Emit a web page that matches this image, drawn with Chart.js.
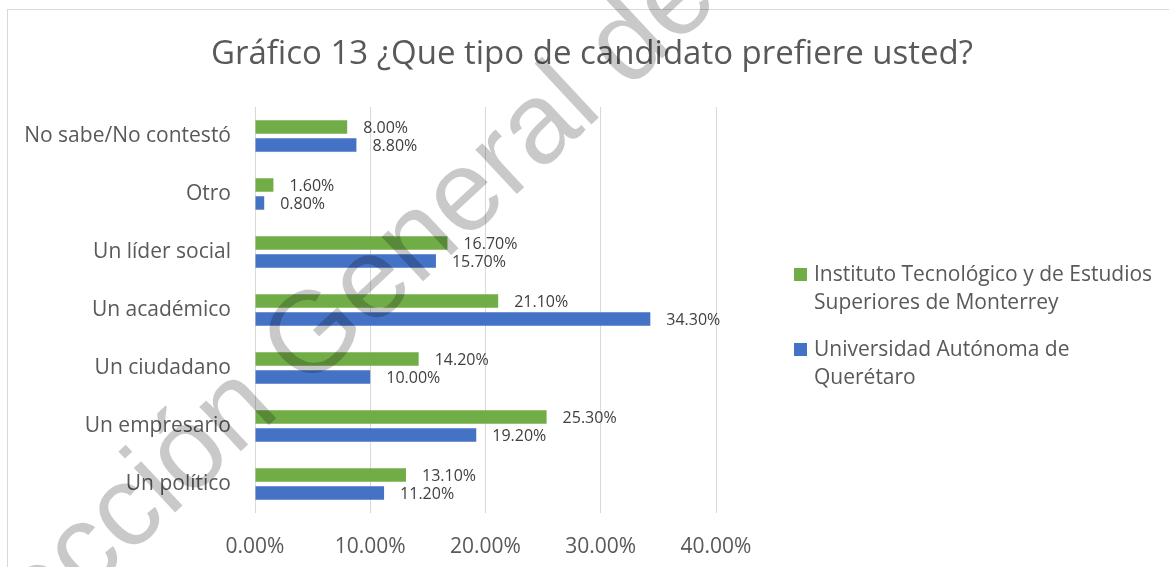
<!DOCTYPE html>
<html>
<head>
<meta charset="utf-8">
<script src="https://cdn.jsdelivr.net/npm/chart.js@4"></script>
<style>
  body { margin: 0; background: #fff; overflow: hidden; }
  #frame { position: absolute; left: 7px; top: 9px; width: 1200px; height: 600px; border: 1px solid #d9d9d9; }
  #myChart { position: absolute; left: 0; top: 0; }
</style>
</head>
<body>
<div id="frame"></div>
<canvas id="myChart" width="1169" height="567"></canvas>
<script>
const categories = ['No sabe/No contestó', 'Otro', 'Un líder social', 'Un académico', 'Un ciudadano', 'Un empresario', 'Un político']
const itesm = [8.0, 1.6, 16.7, 21.1, 14.2, 25.3, 13.1]
const uaq = [8.8, 0.8, 15.7, 34.3, 10.0, 19.2, 11.2]
const seriesNames = [
  ['Instituto Tecnológico y de Estudios', 'Superiores de Monterrey'],
  ['Universidad Autónoma de', 'Querétaro']
]
const xTicks = [0, 10, 20, 30, 40]
const title = 'Gráfico 13 ¿Que tipo de candidato prefiere usted?'
const watermark = 'Dirección General de Bibliotecas'

const FONT = '"Open Sans", sans-serif'
const GREY = '#595959'

function pct(v) {
  return v.toFixed(2) + '%'
}

// values next to the bars
const valueLabels = {
  id: 'valueLabels',
  afterDatasetsDraw(chart) {
    const ctx = chart.ctx
    ctx.save()
    ctx.font = '16px ' + FONT
    ctx.fillStyle = '#404040'
    ctx.textBaseline = 'middle'
    ctx.textAlign = 'left'
    chart.data.datasets.forEach(function(ds, i) {
      chart.getDatasetMeta(i).data.forEach(function(bar, j) {
        ctx.fillText(pct(ds.data[j]), bar.x + 16, bar.y + 1)
      })
    })
    ctx.restore()
  }
}

// title + legend on the right, watermark over everything
const decorations = {
  id: 'decorations',
  afterDraw(chart) {
    const ctx = chart.ctx
    ctx.save()
    ctx.fillStyle = GREY
    ctx.font = '33px ' + FONT
    ctx.textAlign = 'center'
    ctx.textBaseline = 'middle'
    ctx.fillText(title, 592, 55)

    ctx.font = '21px ' + FONT
    ctx.textAlign = 'left'
    let y = 275
    chart.data.datasets.forEach(function(ds, i) {
      ctx.fillStyle = ds.backgroundColor
      ctx.fillRect(794, y - 7, 13, 13)
      ctx.fillStyle = GREY
      seriesNames[i].forEach(function(line, k) {
        ctx.fillText(line, 814, y + k * 28)
      })
      y += 75
    })

    // watermark, anchored on the "n" of "Dirección"
    const size = 115
    ctx.font = size + 'px "Liberation Sans", Arial, sans-serif'
    ctx.fillStyle = 'rgba(0,0,0,0.21)'
    const pre = ctx.measureText('Direcció').width
    const n = ctx.measureText('n').width
    ctx.translate(238, 413)
    ctx.rotate(-43 * Math.PI / 180)
    ctx.textBaseline = 'alphabetic'
    ctx.fillText(watermark, -pre - n / 2, 0.26 * size)
    ctx.restore()
  }
}

new Chart(document.getElementById('myChart'), {
  type: 'bar',
  data: {
    labels: categories,
    datasets: [
      {
        label: seriesNames[0].join(' '),
        data: itesm,
        backgroundColor: '#70AD47',
        barPercentage: 0.75,
        categoryPercentage: 0.62
      },
      {
        label: seriesNames[1].join(' '),
        data: uaq,
        backgroundColor: '#4472C4',
        barPercentage: 0.75,
        categoryPercentage: 0.62
      }
    ]
  },
  options: {
    indexAxis: 'y',
    responsive: false,
    animation: false,
    layout: {
      padding: { left: 0, right: 453, top: 107, bottom: 0 }
    },
    scales: {
      x: {
        min: 0,
        max: 40,
        afterBuildTicks: function(scale) {
          scale.ticks = xTicks.map(function(v) { return { value: v } })
        },
        afterFit: function(scale) { scale.height = 54 },
        ticks: {
          callback: function(v) { return pct(v) },
          color: GREY,
          font: { family: FONT, size: 21 },
          padding: 21
        },
        grid: { color: '#d9d9d9', drawTicks: false },
        border: { display: false }
      },
      y: {
        afterFit: function(scale) { scale.width = 255 },
        ticks: {
          color: GREY,
          font: { family: FONT, size: 21 },
          padding: 24
        },
        grid: { display: false, drawTicks: false },
        border: { display: false }
      }
    },
    plugins: {
      legend: { display: false },
      tooltip: { enabled: false }
    }
  },
  plugins: [valueLabels, decorations]
})
</script>
</body>
</html>
